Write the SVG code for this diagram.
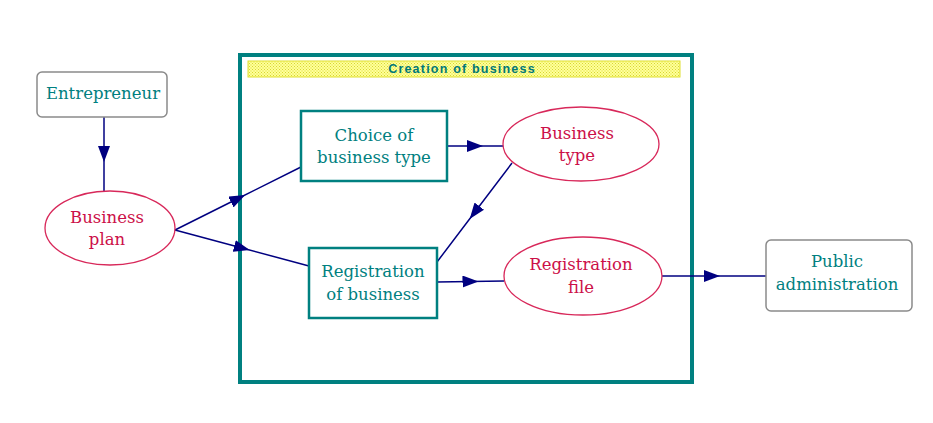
<svg xmlns="http://www.w3.org/2000/svg" width="933" height="423" viewBox="0 0 933 423">
<style>
.lbl{font-family:"DejaVu Serif","Liberation Serif",serif;font-size:16.5px;text-anchor:middle}
.teal{fill:#008080}
.red{fill:#cc1048}
.ext{fill:#fff;stroke:#8a8a8a;stroke-width:1.5}
.proc{fill:#fff;stroke:#008080;stroke-width:2.5}
.data{fill:#fff;stroke:#d8285a;stroke-width:1.3}
.conn{fill:none;stroke:#000080;stroke-width:1.5}
</style>
<defs>
<marker id="ah" viewBox="0 0 16 12" refX="8" refY="6" markerWidth="16" markerHeight="12" markerUnits="userSpaceOnUse" orient="auto">
<path d="M0,0 L16,6 L0,12 Z" fill="#000080"/>
</marker>
<pattern id="hatch" width="3" height="3" patternUnits="userSpaceOnUse">
<rect width="3" height="3" fill="#ffff9a"/>
<rect width="1" height="1" fill="#d8d830"/>
<rect x="1.5" y="1.5" width="1" height="1" fill="#d8d830"/>
</pattern>
</defs>
<rect width="933" height="423" fill="#fff"/>
<g id="creation-of-business">
<rect x="240" y="55" width="452" height="327" fill="none" stroke="#008080" stroke-width="4"/>
<rect x="248" y="61" width="432" height="16" fill="url(#hatch)" stroke="#e0e030" stroke-width="1"/>
<text x="462" y="73" font-family="'Liberation Sans',Arial,sans-serif" font-size="12.5" font-weight="bold" letter-spacing="1.2" text-anchor="middle" fill="#007878">Creation of business</text>
</g>
<g id="connectors">
<path class="conn" d="M104,117 L104,154 L104,191" marker-mid="url(#ah)"/>
<path class="conn" d="M175,230 L238,198.5 L301,167" marker-mid="url(#ah)"/>
<path class="conn" d="M175,230 L242,248 L309,266" marker-mid="url(#ah)"/>
<path class="conn" d="M447,146 L475,146 L503,146" marker-mid="url(#ah)"/>
<path class="conn" d="M512,163 L474.5,212.5 L437,262" marker-mid="url(#ah)"/>
<path class="conn" d="M437,282 L470.5,281.5 L504,281" marker-mid="url(#ah)"/>
<path class="conn" d="M662,276 L712,276 L766,276" marker-mid="url(#ah)"/>
</g>
<g id="entrepreneur">
<rect class="ext" x="37" y="72" width="130" height="45" rx="5"/>
<text class="lbl teal" x="103" y="99">Entrepreneur</text>
</g>
<g id="business-plan">
<ellipse class="data" cx="110" cy="228" rx="65" ry="37"/>
<text class="lbl red" x="107" y="223">Business</text>
<text class="lbl red" x="107" y="245">plan</text>
</g>
<g id="choice-of-business-type">
<rect class="proc" x="301" y="111" width="146" height="70"/>
<text class="lbl teal" x="374" y="141">Choice of</text>
<text class="lbl teal" x="374" y="163">business type</text>
</g>
<g id="business-type">
<ellipse class="data" cx="581" cy="144" rx="78" ry="37"/>
<text class="lbl red" x="577" y="139">Business</text>
<text class="lbl red" x="577" y="161">type</text>
</g>
<g id="registration-of-business">
<rect class="proc" x="309" y="248" width="128" height="70"/>
<text class="lbl teal" x="373" y="277">Registration</text>
<text class="lbl teal" x="373" y="300">of business</text>
</g>
<g id="registration-file">
<ellipse class="data" cx="583" cy="276" rx="79" ry="39"/>
<text class="lbl red" x="581" y="270">Registration</text>
<text class="lbl red" x="581" y="293">file</text>
</g>
<g id="public-administration">
<rect class="ext" x="766" y="240" width="146" height="71" rx="5"/>
<text class="lbl teal" x="837" y="267">Public</text>
<text class="lbl teal" x="837" y="290">administration</text>
</g>
</svg>
